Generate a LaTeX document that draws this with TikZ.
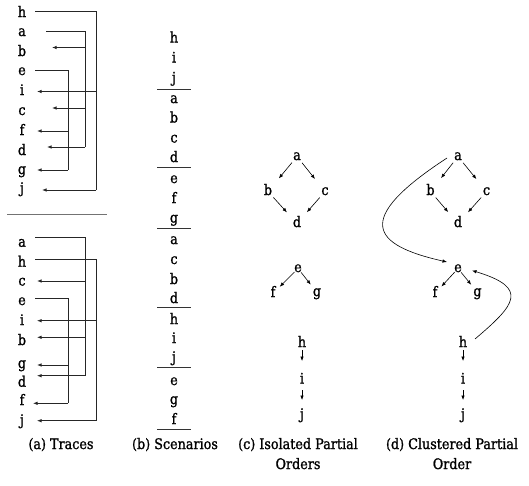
\documentclass[tikz,border=0pt]{standalone}
\usepackage{fontspec}
\setmainfont{DejaVu Serif}[FakeStretch=0.88]
\newfontfamily\heavyserif{DejaVu Serif}[FakeStretch=0.88,FakeBold=1.2]
\usetikzlibrary{arrows.meta,calc}
\begin{document}
\begin{tikzpicture}[x=1pt,y=-1pt,
  lt/.style={anchor=base,inner sep=0pt,font=\fontsize{14.5}{20}\heavyserif},
  pn/.style={lt,text height=7pt,text depth=0pt},
  captext/.style={anchor=base,inner sep=0pt,align=center,font=\fontsize{14.5}{20}\heavyserif},
  tr/.style={line width=0.8pt,color=black!85},
  arr/.style={-{Latex[length=4.5pt,width=3.5pt]}},
  ge/.style={line width=0.6pt,-{Latex[length=4.5pt,width=3.5pt]}},
  sepline/.style={line width=0.9pt,color=black!80}
]
\useasboundingbox (0,0) rectangle (529,485);

% ---------- (a) Traces, top ----------
\node[lt] (t1h) at (22,17) {h};
\node[lt] (t1a) at (22,36) {a};
\node[lt] (t1b) at (22,56) {b};
\node[lt] (t1e) at (22,75) {e};
\node[lt] (t1i) at (22,95) {i};
\node[lt] (t1c) at (22,115) {c};
\node[lt] (t1f) at (22,135) {f};
\node[lt] (t1d) at (22,155) {d};
\node[lt] (t1g) at (22,174) {g};
\node[lt] (t1j) at (22,193) {j};

\draw[tr] (35,11.7) -| (96,190);
\draw[tr,arr] (96,190) -- (42,190);
\draw[tr,arr] (96,91.5) -- (37,91.5);
\draw[tr] (46,31.5) -| (85,147);
\draw[tr,arr] (85,147) -- (47,147);
\draw[tr,arr] (85,47.5) -- (52,47.5);
\draw[tr,arr] (85,108) -- (52,108);
\draw[tr] (35,70) -| (68,170);
\draw[tr,arr] (68,170) -- (37,170);
\draw[tr,arr] (68,131) -- (37,131);

\draw[sepline,color=black!55,line width=1.2pt] (7,214.5) -- (107,214.5);

% ---------- (a) Traces, bottom ----------
\node[lt] (t2a) at (22,246.7) {a};
\node[lt] (t2h) at (22,266.7) {h};
\node[lt] (t2c) at (22,285.5) {c};
\node[lt] (t2e) at (22,305) {e};
\node[lt] (t2i) at (22,325) {i};
\node[lt] (t2b) at (22,345) {b};
\node[lt] (t2g) at (22,368) {g};
\node[lt] (t2d) at (22,386.7) {d};
\node[lt] (t2f) at (22,405) {f};
\node[lt] (t2j) at (22,425) {j};

\draw[tr] (35,237.3) -| (85,375.7);
\draw[tr,arr] (85,375.7) -- (37,375.7);
\draw[tr,arr] (85,281) -- (37,281);
\draw[tr,arr] (85,337.3) -- (37,337.3);
\draw[tr] (35,259.3) -| (96,420.7);
\draw[tr,arr] (96,420.7) -- (37,420.7);
\draw[tr,arr] (96,320.7) -- (37,320.7);
\draw[tr] (35,298.3) -| (68,403.3);
\draw[tr,arr] (68,403.3) -- (33,403.3);
\draw[tr,arr] (68,365) -- (37,365);

% ---------- (b) Scenarios ----------
\foreach \l/\y [count=\k] in {h/42.5,i/62.5,j/82.5,a/103,b/122.5,c/142.5,d/162,e/183,f/203,g/222.5,a/244,c/264,b/284,d/303,h/324,i/343,j/362,e/385,g/404,f/424}
  \node[lt] (s\k) at (174,\y) {\l};
\foreach \y in {89,167.5,228.5,307.5,367.5,429.5}
  \draw[sepline] (157,\y) -- (191,\y);

% ---------- (c) Isolated Partial Orders ----------
\node[pn] (ca) at (297,160) {a};
\node[pn] (cb) at (268,195) {b};
\node[pn] (cc) at (325,195) {c};
\node[pn] (cd) at (297,227) {d};
\node[pn] (ce) at (298,272) {e};
\node[pn] (cf) at (273,297) {f};
\node[pn] (cg) at (317,296) {g};
\node[pn] (ch) at (302,347) {h};
\node[pn] (ci) at (302,383.5) {i};
\node[pn] (cj) at (302,419) {j};

\draw[ge,shorten <=8pt,shorten >=17pt] (ca.center) -- (cb.center);
\draw[ge,shorten <=8pt,shorten >=16pt] (ca.center) -- (cc.center);
\draw[ge,shorten <=8pt,shorten >=15pt] (cb.center) -- (cd.center);
\draw[ge,shorten <=8pt,shorten >=15pt] (cc.center) -- (cd.center);
\draw[ge,shorten <=5pt,shorten >=9.5pt] (ce.center) -- (cf.center);
\draw[ge,shorten <=5pt,shorten >=10pt] (ce.center) -- (cg.center);
\draw[ge,shorten <=6.5pt,shorten >=19pt] (ch.center) -- (ci.center);
\draw[ge,shorten <=10pt,shorten >=15.5pt] (ci.center) -- (cj.center);

% ---------- (d) Clustered Partial Order ----------
\node[pn] (da) at (458,160) {a};
\node[pn] (db) at (430.5,195) {b};
\node[pn] (dc) at (486.5,195) {c};
\node[pn] (dd) at (458,227) {d};
\node[pn] (de) at (458,272) {e};
\node[pn] (df) at (435,297) {f};
\node[pn] (dg) at (477.5,296) {g};
\node[pn] (dh) at (463,347) {h};
\node[pn] (di) at (463,383.5) {i};
\node[pn] (dj) at (463,419) {j};

\draw[ge,shorten <=8pt,shorten >=17pt] (da.center) -- (db.center);
\draw[ge,shorten <=8pt,shorten >=16pt] (da.center) -- (dc.center);
\draw[ge,shorten <=8pt,shorten >=15pt] (db.center) -- (dd.center);
\draw[ge,shorten <=8pt,shorten >=15pt] (dc.center) -- (dd.center);
\draw[ge,shorten <=5pt,shorten >=9.5pt] (de.center) -- (df.center);
\draw[ge,shorten <=5pt,shorten >=10pt] (de.center) -- (dg.center);
\draw[ge,shorten <=6.5pt,shorten >=19pt] (dh.center) -- (di.center);
\draw[ge,shorten <=10pt,shorten >=15.5pt] (di.center) -- (dj.center);

\draw[ge] ($(da.center)+(-11,1.5)$) .. controls (352,220) and (372,245) .. ($(de.center)+(-11,-6.5)$);
\draw[ge] ($(dh.center)+(12,-4.5)$) .. controls (515,305) and (530,288) .. ($(de.center)+(14,2)$);

% ---------- captions ----------
\node[captext] (capa) at (61,449) {(a) Traces};
\node[captext] (capb) at (175,449) {(b) Scenarios};
\node[captext] (capc) at (298,469) {(c) Isolated Partial\\Orders};
\node[captext] (capd) at (452,469) {(d) Clustered Partial\\Order};
\end{tikzpicture}
\end{document}
